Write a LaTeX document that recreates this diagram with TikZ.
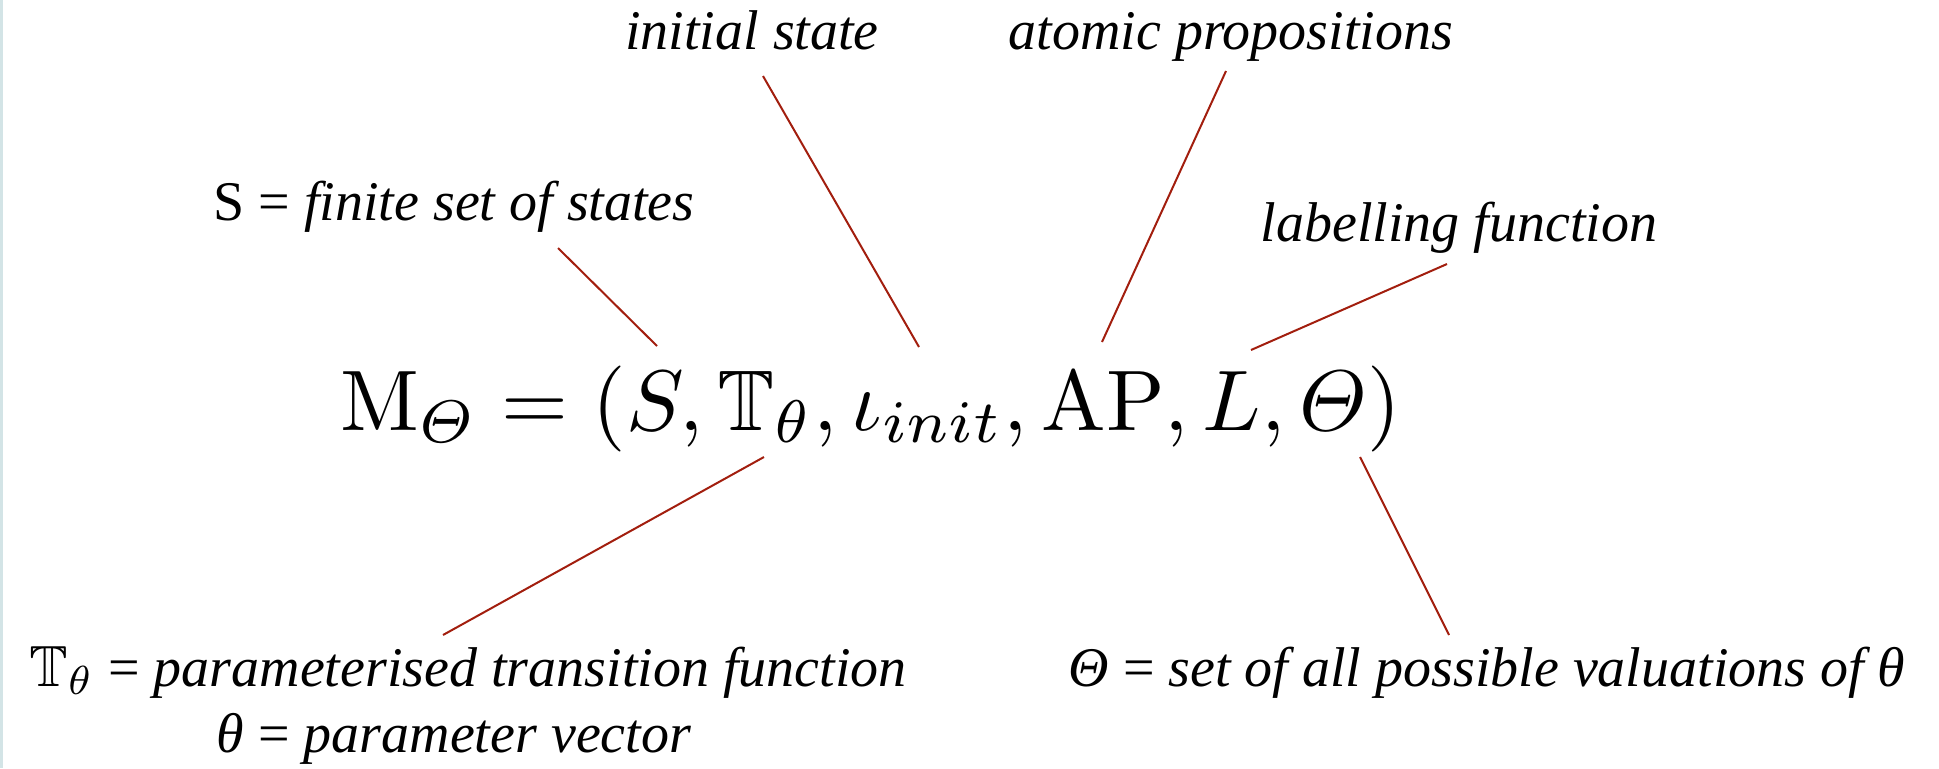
\documentclass[tikz,border=0pt]{standalone}
\usepackage{amsmath,amssymb}
\usepackage{graphicx}
\usepackage[no-math]{fontspec}
\setmainfont{Liberation Serif}
\usetikzlibrary{positioning}
\definecolor{leadR}{HTML}{A21E0E}
\definecolor{edgeB}{HTML}{D3E4E6}

\begin{document}
\begin{tikzpicture}[x=0.5pt,y=-0.5pt,
    lbl/.style={font=\fontsize{28}{32}\selectfont, inner sep=0pt, anchor=base},
    lead/.style={leadR, line width=1pt}]
  \useasboundingbox (0,0) rectangle (1939,768);
  \fill[edgeB] (0,0) rectangle (3,768);
  % the tuple
  \node[inner sep=0pt, anchor=base] (tuple) at (871,430)
     {\scalebox{4.3}{$\mathrm{M}_{\varTheta} = (S, \mathbb{T}_{\theta}, \iota_{init}, \mathrm{AP}, L, \varTheta)$}};
  % labels above
  \node[lbl] (init) at (752,49) {\textit{initial state}};
  \node[lbl] (atom) at (1231,49) {\textit{atomic propositions}};
  \node[lbl] (states) at (454,220) {S = \textit{finite set of states}};
  \node[lbl] (labf) at (1459,241) {\textit{labelling function}};
  % labels below
  \node[lbl] (trans) at (468,686)
     {\scalebox{2.9}{\fontsize{10}{12}\selectfont$\mathbb{T}_{\theta}$} = \textit{parameterised transition function}};
  \node[lbl] (param) at (454,752) {\textit{θ} = \textit{parameter vector}};
  \node[lbl] (vals) at (1487,686) {\textit{Θ} = \textit{set of all possible valuations of θ}};
  % leader ends
  \coordinate (sTop) at (558,248);   \coordinate (sBot) at (657,346);
  \coordinate (iTop) at (763,76);    \coordinate (iBot) at (919,347);
  \coordinate (aTop) at (1226,71);   \coordinate (aBot) at (1102,342);
  \coordinate (lTop) at (1447,264);  \coordinate (lBot) at (1251,350);
  \coordinate (tTop) at (764,457);   \coordinate (tBot) at (443,635);
  \coordinate (vTop) at (1360,457);  \coordinate (vBot) at (1449,635);
  \foreach \p in {s,i,a,l,t,v}{
     \draw[lead] (\p Top) -- (\p Bot);
  }
\end{tikzpicture}
\end{document}
